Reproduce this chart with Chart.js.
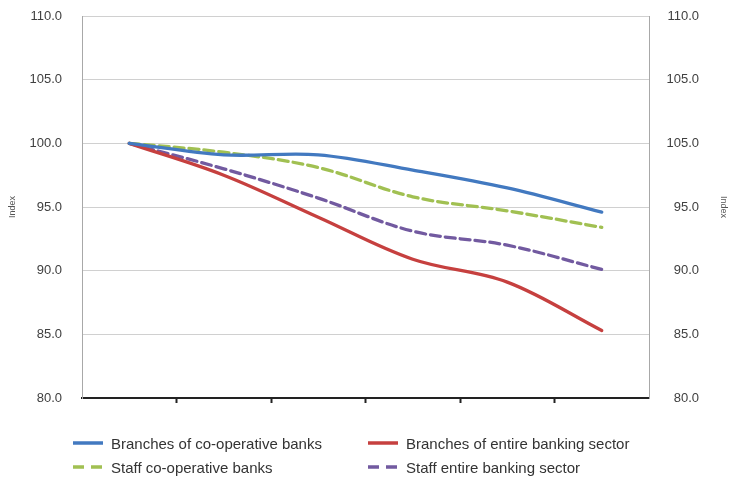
<!DOCTYPE html>
<html><head><meta charset="utf-8">
<script src="https://cdn.jsdelivr.net/npm/chart.js@4"></script>
<style>
html,body{margin:0;padding:0;background:#fff;}
#wrap{position:relative;width:732px;height:479px;overflow:hidden;}
#chart{position:absolute;left:0;top:0;}
#legend{position:absolute;left:73px;top:431px;display:grid;grid-template-columns:295px 320px;}
.item{display:flex;align-items:center;height:24px;font:15px "Liberation Sans",Arial,sans-serif;color:#333;white-space:nowrap;}
.item svg{margin-right:8px;flex:none;}
</style></head>
<body>
<div id="wrap"><canvas id="chart" width="732" height="479"></canvas><div id="legend"></div></div>
<script>
const categories = ['P1','P2','P3','P4','P5','P6'];
const branchesCoop   = [100, 99.1, 99.1, 97.9, 96.5, 94.6];
const branchesSector = [100, 97.5, 94.2, 90.9, 89.1, 85.3];
const staffCoop      = [100, 99.3, 98.1, 95.8, 94.7, 93.4];
const staffSector    = [100, 98.0, 95.7, 93.1, 92.0, 90.1];
const seriesNames = ['Branches of co-operative banks','Branches of entire banking sector','Staff co-operative banks','Staff entire banking sector'];
const rightTickValues = [110, 105, 100, 95, 90, 85, 80];
const rightTickLabels = ['110.0','105.0','105.0','95.0','90.0','85.0','80.0'];
const axisTitle = 'Index';

const tickFont = {family:'"Liberation Sans", Arial, sans-serif', size:13};
const titleFont = {family:'"Liberation Sans", Arial, sans-serif', size:9};

function ds(label, data, color, dash){
  return {label, data, borderColor:color, backgroundColor:color, borderWidth:3.3,
    borderDash:dash, pointRadius:0, pointHoverRadius:0, tension:0.35, fill:false,
    borderCapStyle:'round', yAxisID:'y'};
}
function fitTo(w){
  return (s)=>{ s.width = w; s.paddingTop = 0; s.paddingBottom = 0; };
}

const chart = new Chart(document.getElementById('chart'), {
  type:'line',
  data:{
    labels:categories,
    datasets:[
      ds(seriesNames[0], branchesCoop, '#4279c0', []),
      ds(seriesNames[1], branchesSector, '#c6403f', []),
      ds(seriesNames[2], staffCoop, '#a1c052', [10,5]),
      ds(seriesNames[3], staffSector, '#725aa0', [10,5])
    ]
  },
  options:{
    responsive:false, animation:false, devicePixelRatio:1,
    layout:{padding:{top:16,left:0,right:0,bottom:76}},
    plugins:{legend:{display:false}, tooltip:{enabled:false}},
    scales:{
      x:{
        type:'category', offset:true,
        grid:{offset:true, drawOnChartArea:false, drawTicks:true, tickLength:5, tickWidth:2,
          tickColor:(c)=> (c.index === undefined || c.index === 0) ? 'rgba(0,0,0,0)' : '#222'},
        border:{color:'#222', width:2},
        ticks:{display:false}
      },
      y:{
        position:'left', min:80, max:110,
        ticks:{stepSize:5, padding:20, color:'#404040', font:tickFont, callback:(v)=>Number(v).toFixed(1)},
        grid:{color:'#d0d0d0', drawTicks:false, lineWidth:1},
        border:{color:'#a8a8a8', width:1},
        title:{display:true, text:axisTitle, color:'#555', font:titleFont, padding:{top:7,bottom:0}},
        afterFit:fitTo(82)
      },
      y2:{
        position:'right', weight:0, min:80, max:110,
        ticks:{stepSize:5, padding:0, crossAlign:'far', color:'#404040', font:tickFont,
          callback:(v)=>{const i = rightTickValues.indexOf(v); return i >= 0 ? rightTickLabels[i] : '';}},
        grid:{drawOnChartArea:false, drawTicks:false},
        border:{color:'#a8a8a8', width:1},
        afterFit:fitTo(50)
      },
      yTitleRight:{
        position:'right', weight:1, min:80, max:110,
        ticks:{display:false},
        grid:{display:false, drawTicks:false},
        border:{display:false},
        title:{display:true, text:axisTitle, color:'#555', font:titleFont, padding:{top:3,bottom:0}},
        afterFit:fitTo(33)
      }
    }
  }
});

// HTML legend built from the chart's datasets (row-major: blue, red / green, purple)
const legend = document.getElementById('legend');
chart.data.datasets.forEach(d=>{
  const item = document.createElement('div');
  item.className = 'item';
  const dash = (d.borderDash && d.borderDash.length) ? 'stroke-dasharray="11 7"' : '';
  item.innerHTML = '<svg width="30" height="8"><line x1="0" y1="4" x2="30" y2="4" stroke="'+d.borderColor+'" stroke-width="3.5" '+dash+'/></svg>';
  const span = document.createElement('span');
  span.textContent = d.label;
  item.appendChild(span);
  legend.appendChild(item);
});
</script>
</body></html>
